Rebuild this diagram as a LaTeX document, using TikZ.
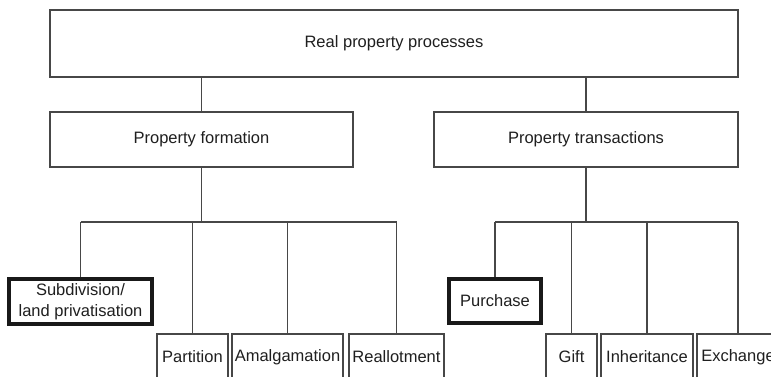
\documentclass[tikz,border=0pt]{standalone}
\usepackage{fontspec}
\setmainfont{Liberation Sans}
\begin{document}
\begin{tikzpicture}[x=1pt,y=-1pt,
  linecol/.style={draw=black!72, line width=1.4pt},
  box/.style={linecol, rectangle, inner sep=0pt, align=center, text=black!88,
    font=\fontsize{16.5}{21}\selectfont},
  keybox/.style={box, line width=3.4pt, draw=black!90},
  wire/.style={linecol}]
  % page frame and clipping of the lowest row
  \clip (0,0) rectangle (771,376);
  \fill[white] (0,0) rectangle (771,376);

  % top level
  \node[box, minimum width=688, minimum height=67] (root) at (394,43.5) {Real property processes};

  % second level
  \node[box, minimum width=303, minimum height=55] (form)  at (201.5,139.5) {Property formation};
  \node[box, minimum width=304, minimum height=55] (trans) at (586,139.5) {Property transactions};

  % property formation branch
  \node[keybox, minimum width=143, minimum height=45] (subdiv) at (80.5,301.5) {Subdivision/\\land privatisation};
  \node[box, minimum width=71,  minimum height=46] (part)  at (192.5,357) {Partition};
  \node[box, minimum width=111, minimum height=46] (amal)  at (287.5,357) {Amalgamation};
  \node[box, minimum width=95,  minimum height=46] (reall) at (396.5,357) {Reallotment};

  % property transactions branch
  \node[keybox, minimum width=92, minimum height=44] (purch) at (495,301) {Purchase};
  \node[box, minimum width=51, minimum height=46] (gift)  at (571.5,357) {Gift};
  \node[box, minimum width=92, minimum height=46] (inher) at (647,357) {Inheritance};
  \node[box, minimum width=82, minimum height=46] (exch)  at (738,357) {Exchange};

  % bus rail heights
  \coordinate (fbus) at (202,222);
  \coordinate (tbus) at (586,222);

  % connectors: root to second level
  \draw[wire] (form.north)  -- (form.north |- root.south);
  \draw[wire] (trans.north) -- (trans.north |- root.south);

  % connectors: formation branch
  \draw[wire] (form.south) -- (form.south |- fbus);
  \draw[wire] (subdiv.north |- fbus) -- (reall.north |- fbus);
  \draw[wire] (subdiv.north) -- (subdiv.north |- fbus);
  \draw[wire] (part.north)   -- (part.north |- fbus);
  \draw[wire] (amal.north)   -- (amal.north |- fbus);
  \draw[wire] (reall.north)  -- (reall.north |- fbus);

  % connectors: transactions branch
  \draw[wire] (trans.south) -- (trans.south |- tbus);
  \draw[wire] (purch.north |- tbus) -- (exch.north |- tbus);
  \draw[wire] (purch.north) -- (purch.north |- tbus);
  \draw[wire] (gift.north)  -- (gift.north |- tbus);
  \draw[wire] (inher.north) -- (inher.north |- tbus);
  \draw[wire] (exch.north)  -- (exch.north |- tbus);
\end{tikzpicture}
\end{document}
